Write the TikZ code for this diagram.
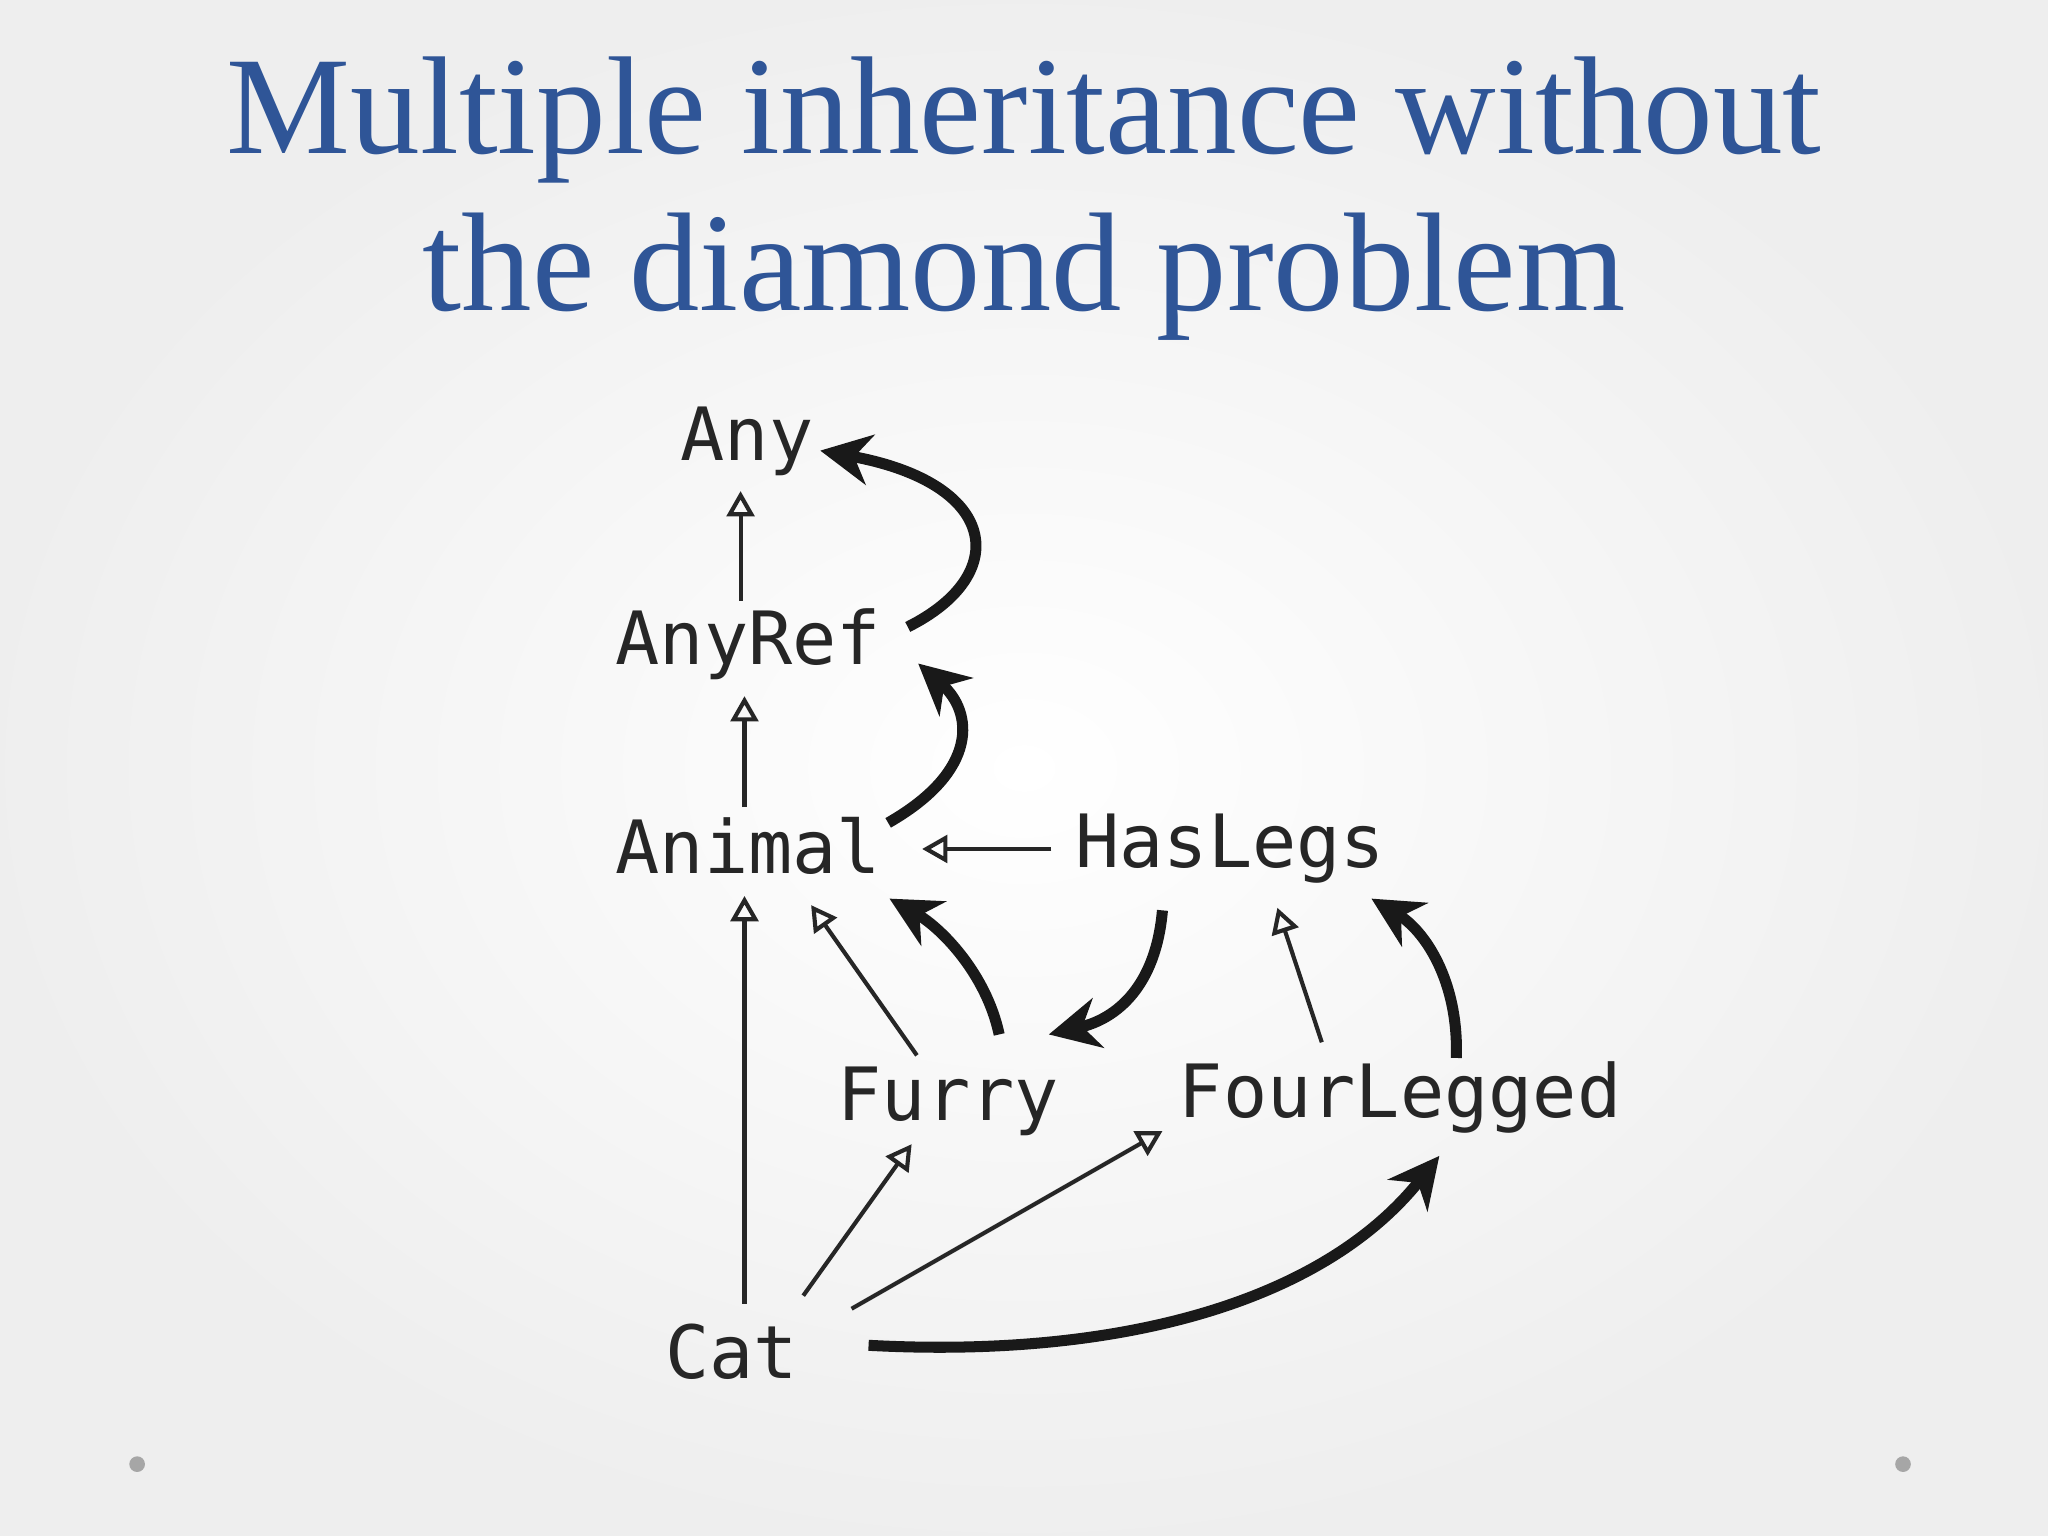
\documentclass[tikz,border=0pt]{standalone}
\usepackage{fontspec}
\setmainfont{Liberation Serif}
\newfontfamily\monof{DejaVu Sans Mono}
\usetikzlibrary{arrows.meta}
\definecolor{titleblue}{HTML}{2F5597}
\begin{document}
\begin{tikzpicture}[x=0.01cm,y=-0.01cm,
  lbl/.style={font=\monof\fontsize{16}{18}\selectfont, text=black!85, inner sep=0pt},
  thin/.style={line width=0.9pt, draw=black!85, -{Triangle[open,length=5.5pt,width=6pt,line width=0.9pt]}},
  thick/.style={line width=2.4pt, draw=black!90, -{Stealth[length=11pt,width=11pt,inset=3.5pt]}}]
\useasboundingbox (0,0) rectangle (1568,1176);
\shade[inner color=white, outer color=gray!13] (0,0) rectangle (1568,1176);
\node (t1) at (784,92) {\color{titleblue}\resizebox{12.2cm}{!}{Multiple inheritance without}};
\node (t2) at (784,212) {\color{titleblue}\resizebox{9.2cm}{!}{the diamond problem}};
\fill[gray!70] (105,1121) circle (6);
\fill[gray!70] (1457,1121) circle (6);
\node[lbl] (any) at (572,338) {Any};
\node[lbl] (anyref) at (573,493) {AnyRef};
\node[lbl] (animal) at (573,648) {Animal};
\node[lbl] (haslegs) at (942,650) {HasLegs};
\node[lbl] (furry) at (726,843) {Furry};
\node[lbl] (four) at (1072,840) {FourLegged};
\node[lbl] (cat) at (560,1035) {Cat};
% thin edges
\coordinate (a1) at (567,460); \coordinate (a2) at (567,376);
\coordinate (b1) at (570,618); \coordinate (b2) at (570,533);
\coordinate (c1) at (805,650); \coordinate (c2) at (706,650);
\coordinate (d1) at (570,998); \coordinate (d2) at (570,686);
\coordinate (e1) at (702,808); \coordinate (e2) at (621,693);
\coordinate (f1) at (1012,798); \coordinate (f2) at (978,695);
\coordinate (g1) at (615,992); \coordinate (g2) at (698,876);
\coordinate (h1) at (652,1002); \coordinate (h2) at (890,866);
\draw[thin] (a1) -- (a2);
\draw[thin] (b1) -- (b2);
\draw[thin] (c1) -- (c2);
\draw[thin] (d1) -- (d2);
\draw[thin] (e1) -- (e2);
\draw[thin] (f1) -- (f2);
\draw[thin] (g1) -- (g2);
\draw[thin] (h1) -- (h2);
% thick edges
\coordinate (p1) at (695,480); \coordinate (p2) at (628,345);
\coordinate (q1) at (680,630); \coordinate (q2) at (703,508);
\coordinate (r1) at (765,792); \coordinate (r2) at (681,688);
\coordinate (s1) at (890,697); \coordinate (s2) at (803,792);
\coordinate (u1) at (1115,810); \coordinate (u2) at (1050,688);
\coordinate (v1) at (665,1030); \coordinate (v2) at (1102,885);
\draw[thick] (p1) .. controls (775,440) and (765,370) .. (p2);
\draw[thick] (q1) .. controls (750,590) and (745,545) .. (q2);
\draw[thick] (r1) .. controls (755,745) and (720,710) .. (r2);
\draw[thick] (s1) .. controls (885,755) and (855,780) .. (s2);
\draw[thick] (u1) .. controls (1117,750) and (1090,712) .. (u2);
\draw[thick] (v1) .. controls (850,1040) and (1010,1000) .. (v2);
\end{tikzpicture}
\end{document}
